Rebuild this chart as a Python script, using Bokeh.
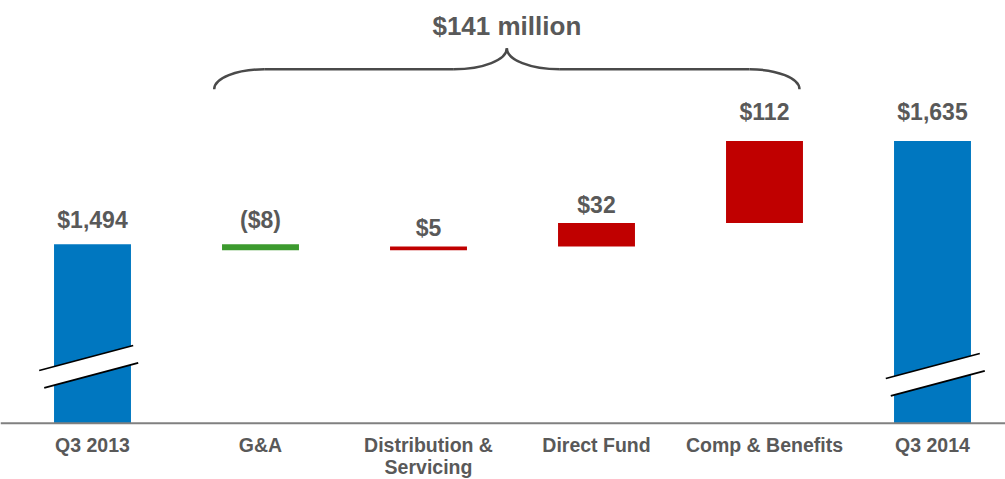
from bokeh.plotting import figure
from bokeh.models import ColumnDataSource, Range1d, Span
from bokeh.core.properties import value
from bokeh.embed import file_html
from bokeh.resources import INLINE

# ---------------- data ----------------
categories = ["Q3 2013", "G&A", "Distribution &\nServicing", "Direct Fund", "Comp & Benefits", "Q3 2014"]
start_total = 1494
changes = [-8, 5, 32, 112]
end_total = 1635
value_labels = ["$1,494", "($8)", "$5", "$32", "$112", "$1,635"]
axis_floor = 1250          # broken value axis starts here

# ---------------- style ----------------
BLUE, GREEN, RED = "#0077C0", "#3C9A2E", "#C00000"
TEXT = "#595959"
FONT = "Liberation Sans"
W, H = 1005, 479
AXIS_PX = 422.7            # frame pixel row of the value-axis floor
FIRST_CAT_PX = 92.0        # frame pixel column of the first category
PX_PER_UNIT = 0.733
PX_PER_CAT = 168.0
BASELINE_FIX = 0.37        # em shift so that glyph baselines land where intended

def dy(px):
    return px / PX_PER_UNIT

def dx(px):
    return px / PX_PER_CAT

# ---------------- waterfall geometry ----------------
x = list(range(len(categories)))
bottoms, tops, colors = [axis_floor], [start_total], [BLUE]
running = start_total
for c in changes:
    new = running + c
    bottoms.append(min(running, new))
    tops.append(max(running, new))
    colors.append(GREEN if c < 0 else RED)
    running = new
bottoms.append(axis_floor)
tops.append(end_total)
colors.append(BLUE)

VAL_SIZE = 23
label_gap_px = [15.5, 16, 10, 9.5, 20, 20.5]
label_y = [t + dy(g + BASELINE_FIX * VAL_SIZE) for t, g in zip(tops, label_gap_px)]

src = ColumnDataSource(dict(x=x, top=tops, bottom=bottoms, color=colors,
                            ly=label_y, lab=value_labels))

x0 = x[0] - dx(FIRST_CAT_PX)
p = figure(width=W, height=H,
           x_range=Range1d(x0, x0 + dx(W)),
           y_range=Range1d(axis_floor - dy(H - AXIS_PX), axis_floor + dy(AXIS_PX)),
           output_backend="svg", toolbar_location=None,
           x_axis_location=None, y_axis_location=None,
           min_border=0, outline_line_color=None)
p.title.visible = False
p.grid.visible = False
p.background_fill_color = "white"
p.border_fill_color = "white"

p.vbar(x="x", top="top", bottom="bottom", width=0.458, fill_color="color",
       line_color=None, source=src)

p.text(x="x", y="ly", text="lab", source=src, text_font=value(FONT),
       text_font_style="bold", text_font_size=f"{VAL_SIZE}px", text_color=TEXT,
       text_align="center", text_baseline="alphabetic")

# ---------------- axis breaks ----------------
corners = [(-49.5, 3.8), (44.5, -21.2), (49.5, -3.9), (-44.5, 21.1)]
breaks = [(0, -3.8, 56.5), (len(categories) - 1, 2.8, 48.5)]
pxs, pys, sx0, sy0, sx1, sy1 = [], [], [], [], [], []
for idx, xoff, yoff in breaks:
    cx = x[idx] + dx(xoff)
    cy = axis_floor + dy(yoff)
    cxs = [cx + dx(a) for a, b in corners]
    cys = [cy - dy(b) for a, b in corners]
    pxs.append(cxs)
    pys.append(cys)
    sx0 += [cxs[0], cxs[3]]
    sy0 += [cys[0], cys[3]]
    sx1 += [cxs[1], cxs[2]]
    sy1 += [cys[1], cys[2]]
p.patches(pxs, pys, fill_color="white", line_color=None)
p.segment(sx0, sy0, sx1, sy1, line_color="black", line_width=1.8)

# ---------------- category axis (floor line + labels) ----------------
p.add_layout(Span(location=axis_floor, dimension="width", line_color="#808080",
                  line_width=2))
p.text(x=x, y=[axis_floor - dy(10.5)] * len(x), text=categories,
       text_font=value(FONT), text_font_style="bold", text_font_size="19.5px",
       text_color=TEXT, text_align="center", text_baseline="top",
       text_line_height=1.0)

# ---------------- brace ----------------
top = max(tops)
y_line = top + dy(71.7)
y_ends = top + dy(51.7)
y_tip = top + dy(92.7)
xl = x[1] + dx(-46.3)
xr = x[4] + dx(35.0)
xt = (xl + xr) / 2
ce = dx(50)
ct = dx(53)
k = 0.552
BR = "#4a4a4a"
bx0 = [xl, xt, xr, xt]
by0 = [y_ends, y_tip, y_ends, y_tip]
bx1 = [xl + ce, xt - ct, xr - ce, xt + ct]
by1 = [y_line] * 4
cx0 = [xl, xt, xr, xt]
cy0 = [y_ends + k * (y_line - y_ends), y_tip - k * (y_tip - y_line),
       y_ends + k * (y_line - y_ends), y_tip - k * (y_tip - y_line)]
cx1 = [xl + ce * (1 - k), xt - ct * (1 - k), xr - ce * (1 - k), xt + ct * (1 - k)]
cy1 = [y_line] * 4
p.bezier(x0=bx0, y0=by0, x1=bx1, y1=by1, cx0=cx0, cy0=cy0, cx1=cx1, cy1=cy1,
         line_color=BR, line_width=2.5)
p.segment([xl + ce, xt + ct], [y_line, y_line], [xt - ct, xr - ce], [y_line, y_line],
          line_color=BR, line_width=2.5)

TITLE_SIZE = 26
p.text(x=[xt], y=[top + dy(105.7 + BASELINE_FIX * TITLE_SIZE)],
       text=[f"${sum(changes)} million"],
       text_font=value(FONT), text_font_style="bold", text_font_size=f"{TITLE_SIZE}px",
       text_color=TEXT, text_align="center", text_baseline="alphabetic")

open("out.html", "w").write(file_html(p, INLINE))
